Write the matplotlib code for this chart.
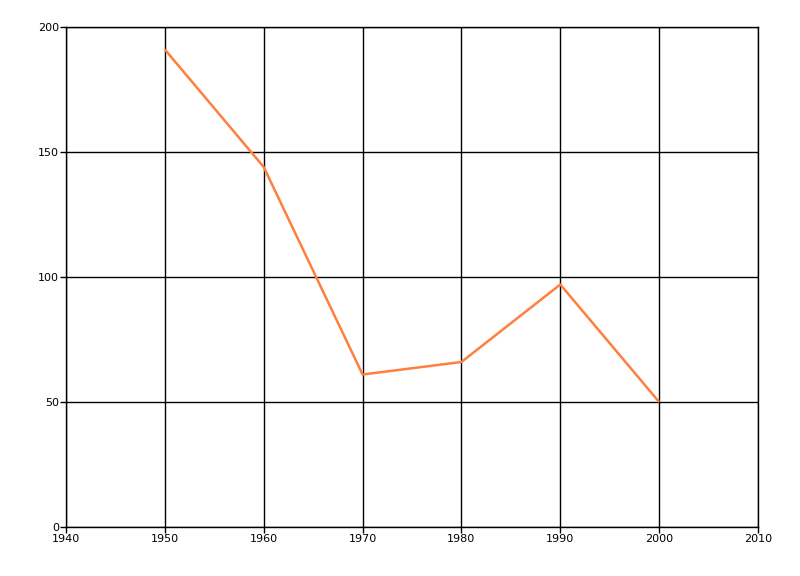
import matplotlib.pyplot as plt

years = [1950, 1960, 1970, 1980, 1990, 2000]
values = [191, 144, 61, 66, 97, 50]
x_ticks = [1940, 1950, 1960, 1970, 1980, 1990, 2000, 2010]
y_ticks = [0, 50, 100, 150, 200]

fig = plt.figure(figsize=(8, 5.76), dpi=100)
ax = fig.add_axes([0.0825, 0.0851, 0.865, 0.868])
ax.plot(years, values, color="#FF7F3F", linewidth=1.8, solid_capstyle="butt")
ax.set_xlim(1940, 2010)
ax.set_ylim(0, 200)
ax.set_xticks(x_ticks)
ax.set_yticks(y_ticks)
ax.grid(True, color="black", linewidth=1)
ax.set_axisbelow(True)
for s in ["top", "right", "left", "bottom"]:
    ax.spines[s].set_linewidth(1)
ax.tick_params(labelsize=8, length=4, width=1, pad=1)
fig.savefig("out.png", dpi=100)
